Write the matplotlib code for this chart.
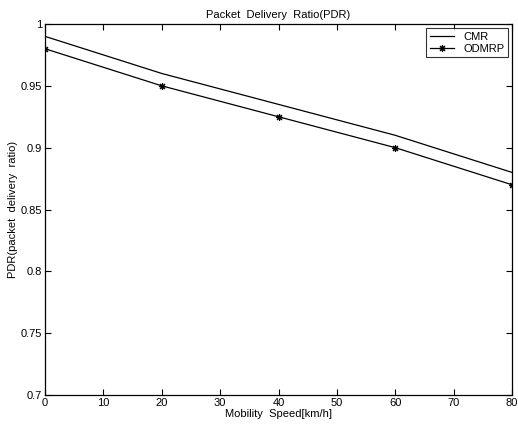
import matplotlib
matplotlib.use("Agg")
import matplotlib.pyplot as plt

speed = [0, 20, 40, 60, 80]
cmr = [0.99, 0.96, 0.935, 0.91, 0.88]
odmrp = [0.98, 0.95, 0.925, 0.90, 0.87]
xticks = [0, 10, 20, 30, 40, 50, 60, 70, 80]
yticks = [0.7, 0.75, 0.8, 0.85, 0.9, 0.95, 1.0]
ytick_labels = ["0.7", "0.75", "0.8", "0.85", "0.9", "0.95", "1"]

plt.rcParams['font.family'] = ['Liberation Sans', 'DejaVu Sans']
fig = plt.figure(figsize=(5.18, 4.28), dpi=100)
ax = fig.add_axes([45/518, 33/428, (512-45)/518, (395-24)/428])

ax.plot(speed, cmr, color='black', lw=0.9, label='CMR')
ax.plot(speed, odmrp, color='black', lw=0.9, marker=(8, 2, 0), markersize=5,
        markeredgewidth=0.8, label='ODMRP')

ax.set_xlim(0, 80)
ax.set_ylim(0.7, 1.0)
ax.set_xticks(xticks)
ax.set_yticks(yticks)
ax.set_yticklabels(ytick_labels)
ax.tick_params(direction='in', top=True, right=True, labelsize=8, length=4, width=0.8, pad=2)
for s in ax.spines.values():
    s.set_linewidth(0.9)

ax.set_title('Packet  Delivery  Ratio(PDR)', fontsize=8, pad=4)
ax.set_xlabel('Mobility  Speed[km/h]', fontsize=8, labelpad=1)
ax.set_ylabel('PDR(packet  delivery  ratio)', fontsize=8, labelpad=2)

leg = ax.legend(loc='upper right', fontsize=8, frameon=True, fancybox=False,
                edgecolor='black', borderaxespad=0.4, handlelength=2.2,
                labelspacing=0.2, borderpad=0.3)
leg.get_frame().set_linewidth(0.8)

fig.savefig('out.png', dpi=100)
